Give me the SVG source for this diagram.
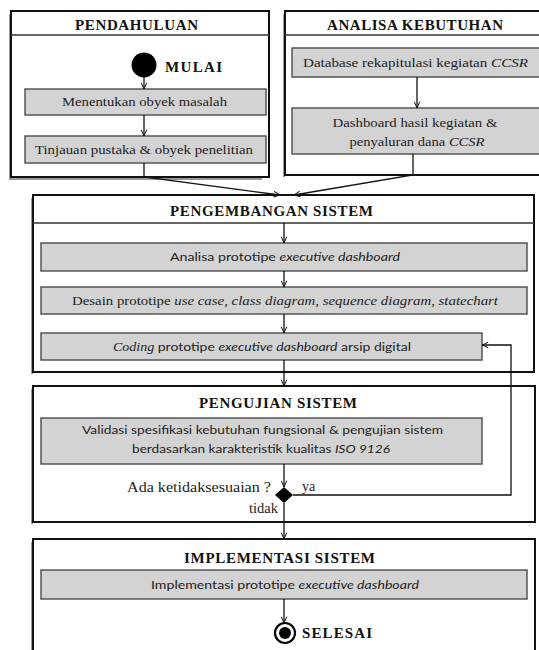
<svg xmlns="http://www.w3.org/2000/svg" width="539" height="650" viewBox="0 0 539 650">
<style>
.outer{fill:#fff;stroke:#111;stroke-width:2}
.shadow{fill:none;stroke:#999;stroke-width:2}
.hdr{stroke:#333;stroke-width:1.5}
.box{fill:#d3d3d3;stroke:#555;stroke-width:1.5}
.title{font-family:"Liberation Serif",serif;font-weight:bold;font-size:15px;fill:#111;text-anchor:middle}
.serif{font-family:"Liberation Serif",serif;font-size:13px;fill:#222;text-anchor:middle}
.sans{font-family:Lato,"Liberation Sans",sans-serif;font-size:12px;fill:#222;text-anchor:middle}
.lbl{font-family:"Liberation Serif",serif;font-size:14px;fill:#222}
.it{font-style:italic}
.conn{fill:none;stroke:#111;stroke-width:1.3}
</style>
<defs>
<marker id="arr" viewBox="0 0 10 10" refX="10" refY="5" markerWidth="7" markerHeight="7" orient="auto" markerUnits="userSpaceOnUse">
<path d="M1,1 L10,5 L1,9" fill="none" stroke="#111" stroke-width="1.4"/>
</marker>
</defs>
<rect width="539" height="650" fill="#fff"/>

<g id="pendahuluan">
<path class="shadow" d="M10,14 V179 H262"/>
<rect class="outer" x="11" y="11" width="258" height="166"/>
<line class="hdr" x1="11" y1="35" x2="269" y2="35"/>
<text class="title" x="136.5" y="30" textLength="123" lengthAdjust="spacing">PENDAHULUAN</text>
</g>
<g id="mulai">
<circle cx="144" cy="65" r="12.5" fill="#000"/>
<text class="title" x="165" y="72" style="text-anchor:start" textLength="57" lengthAdjust="spacing">MULAI</text>
</g>
<g id="menentukan">
<rect class="box" x="25" y="89" width="241" height="26"/>
<text class="serif" x="144.5" y="106" textLength="165" lengthAdjust="spacingAndGlyphs">Menentukan obyek masalah</text>
</g>
<g id="tinjauan">
<rect class="box" x="25" y="136" width="241" height="27"/>
<text class="serif" x="144" y="154" textLength="218" lengthAdjust="spacingAndGlyphs">Tinjauan pustaka &amp; obyek penelitian</text>
</g>

<g id="analisa">
<path class="shadow" d="M284,14 V177"/>
<rect class="outer" x="285" y="11" width="270" height="164"/>
<line class="hdr" x1="285" y1="35" x2="555" y2="35"/>
<text class="title" x="415" y="30" textLength="176" lengthAdjust="spacing">ANALISA KEBUTUHAN</text>
</g>
<g id="database">
<rect class="box" x="292" y="48" width="260" height="29"/>
<text class="serif" x="415.5" y="67" textLength="225" lengthAdjust="spacingAndGlyphs">Database rekapitulasi kegiatan <tspan class="it">CCSR</tspan></text>
</g>
<g id="dashboard">
<rect class="box" x="292" y="108" width="260" height="46"/>
<text class="serif" x="415" y="127" textLength="165" lengthAdjust="spacingAndGlyphs">Dashboard hasil kegiatan &amp;</text>
<text class="serif" x="417" y="146" textLength="135" lengthAdjust="spacingAndGlyphs">penyaluran dana <tspan class="it">CCSR</tspan></text>
</g>

<g id="pengembangan">
<path class="shadow" d="M32,198 V374"/>
<rect class="outer" x="33" y="195" width="501" height="177"/>
<line class="hdr" x1="33" y1="223" x2="534" y2="223"/>
<text class="title" x="271.5" y="216" textLength="203" lengthAdjust="spacing">PENGEMBANGAN SISTEM</text>
</g>
<g id="analisa-prototipe">
<rect class="box" x="41" y="243" width="486" height="28"/>
<text class="sans" x="285" y="261" textLength="230" lengthAdjust="spacingAndGlyphs">Analisa prototipe <tspan class="it">executive dashboard</tspan></text>
</g>
<g id="desain">
<rect class="box" x="41" y="287" width="486" height="27"/>
<text class="serif" x="285" y="305" textLength="426" lengthAdjust="spacingAndGlyphs">Desain prototipe <tspan class="it">use case, class diagram, sequence diagram, statechart</tspan></text>
</g>
<g id="coding">
<rect class="box" x="41" y="333" width="441" height="27"/>
<text class="sans" x="262" y="351" textLength="298" lengthAdjust="spacingAndGlyphs"><tspan class="it" style="font-family:'Liberation Serif',serif">Coding</tspan> prototipe <tspan class="it">executive dashboard</tspan> arsip digital</text>
</g>

<g id="pengujian">
<path class="shadow" d="M32,389 V524"/>
<rect class="outer" x="33" y="386" width="502" height="136"/>
<text class="title" x="278" y="408" textLength="158" lengthAdjust="spacing">PENGUJIAN SISTEM</text>
</g>
<g id="validasi">
<rect class="box" x="41" y="418" width="441" height="46"/>
<text class="sans" x="262.5" y="434" textLength="361" lengthAdjust="spacingAndGlyphs">Validasi spesifikasi kebutuhan fungsional &amp; pengujian sistem</text>
<text class="sans" x="261" y="453" textLength="258" lengthAdjust="spacingAndGlyphs">berdasarkan karakteristik kualitas <tspan class="it">ISO 9126</tspan></text>
</g>
<g id="keputusan">
<path d="M284,487 L293,495 L284,503 L275,495 Z" fill="#000"/>
<text class="lbl" x="271" y="492" style="text-anchor:end" textLength="144" lengthAdjust="spacingAndGlyphs">Ada ketidaksesuaian ?</text>
</g>

<g id="implementasi">
<path class="shadow" d="M32,542 V660"/>
<rect class="outer" x="33" y="539" width="502" height="130"/>
<text class="title" x="279.5" y="563" textLength="191" lengthAdjust="spacing">IMPLEMENTASI SISTEM</text>
</g>
<g id="implementasi-prototipe">
<rect class="box" x="41" y="570" width="486" height="29"/>
<text class="sans" x="285" y="589" textLength="268" lengthAdjust="spacingAndGlyphs">Implementasi prototipe <tspan class="it">executive dashboard</tspan></text>
</g>
<g id="selesai">
<circle cx="285" cy="633" r="10" fill="#fff" stroke="#000" stroke-width="2.2"/>
<circle cx="285" cy="633" r="6" fill="#000"/>
<text class="title" x="302" y="638" style="text-anchor:start" textLength="70" lengthAdjust="spacing">SELESAI</text>
</g>

<g id="connectors">
<line class="conn" x1="144" y1="77" x2="144" y2="89" marker-end="url(#arr)"/>
<line class="conn" x1="144" y1="115" x2="144" y2="136" marker-end="url(#arr)"/>
<polyline class="conn" points="144,163 144,177 280,195" marker-end="url(#arr)"/>
<line class="conn" x1="417" y1="77" x2="417" y2="108" marker-end="url(#arr)"/>
<polyline class="conn" points="413,154 413,175 294,195" marker-end="url(#arr)"/>
<line class="conn" x1="284" y1="223" x2="284" y2="243" marker-end="url(#arr)"/>
<line class="conn" x1="284" y1="271" x2="284" y2="287" marker-end="url(#arr)"/>
<line class="conn" x1="284" y1="314" x2="284" y2="333" marker-end="url(#arr)"/>
<line class="conn" x1="284" y1="360" x2="284" y2="386" marker-end="url(#arr)"/>
<line class="conn" x1="284" y1="464" x2="284" y2="487" marker-end="url(#arr)"/>
<polyline class="conn" points="293,495 511,495 511,345 482,345" marker-end="url(#arr)"/>
<line class="conn" x1="284" y1="503" x2="284" y2="539" marker-end="url(#arr)"/>
<line class="conn" x1="284" y1="599" x2="284" y2="623" marker-end="url(#arr)"/>
<text class="lbl" x="302" y="491">ya</text>
<text class="lbl" x="249" y="513" textLength="29" lengthAdjust="spacingAndGlyphs">tidak</text>
</g>
</svg>
